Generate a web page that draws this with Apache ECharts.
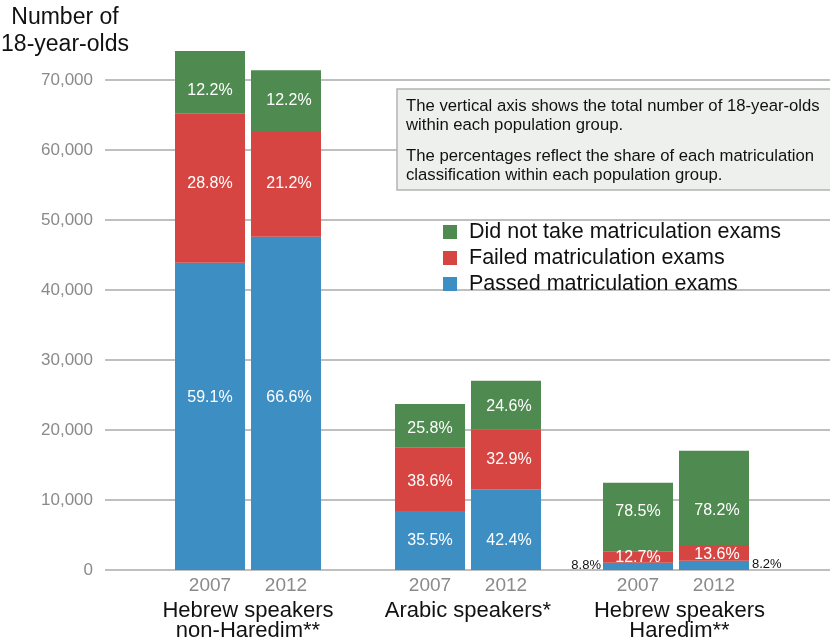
<!DOCTYPE html>
<html>
<head>
<meta charset="utf-8">
<script src="https://cdn.jsdelivr.net/npm/echarts@6/dist/echarts.min.js"></script>
<style>html,body{margin:0;padding:0;background:#fff;}#c{width:830px;height:643px;}</style>
</head>
<body>
<div id="c"></div>
<script>
// ---- data ----
const groups = ['Hebrew speakers\nnon-Haredim**', 'Arabic speakers*', 'Hebrew speakers\nHaredim**'];
const years = ['2007', '2012'];
const seriesNames = ['Passed matriculation exams', 'Failed matriculation exams', 'Did not take matriculation exams'];
// counts of 18-year-olds per bar (group order, 2007 then 2012)
const passed   = [43900, 47600, 8430, 11530, 1050, 1330];
const failed   = [21350, 15100, 9100, 8570, 1570, 2240];
const notTaken = [8900, 8700, 6180, 6940, 9860, 13480];
const pctPassed   = ['59.1%', '66.6%', '35.5%', '42.4%', '8.8%', '8.2%'];
const pctFailed   = ['28.8%', '21.2%', '38.6%', '32.9%', '12.7%', '13.6%'];
const pctNotTaken = ['12.2%', '12.2%', '25.8%', '24.6%', '78.5%', '78.2%'];
const yTicks = [0, 10000, 20000, 30000, 40000, 50000, 60000, 70000];

// ---- styling ----
const FONT = '"Liberation Sans", Arial, Helvetica, sans-serif';
const colors = { passed: '#3d8ec3', failed: '#d64541', notTaken: '#4f8a50' };
// vertical label nudges (px) per series [passed, failed, notTaken], per bar
const labelNudge = [
  [-19, -6, 0, 11, 0, 0],
  [-4, 0, 2, 0, 0, 2],
  [8, 0, 3, 2, -6, 13]
];

const chart = echarts.init(document.getElementById('c'), null, { renderer: 'canvas' });

const gridLefts = [172, 392, 600];
const grids = [{ left: 105, right: 0, top: 80, bottom: 73, outerBoundsMode: 'none', containLabel: false }];
const xAxes = [{ type: 'value', gridIndex: 0, show: false, min: 0, max: 1 }];
const yAxes = [{
  type: 'value', gridIndex: 0, min: yTicks[0], max: yTicks[yTicks.length - 1], interval: yTicks[1] - yTicks[0],
  axisLine: { show: false }, axisTick: { show: false },
  splitLine: { lineStyle: { color: '#bfbfbf', width: 2 } },
  axisLabel: { color: '#8a8a8a', fontSize: 17, fontFamily: FONT, margin: 12,
    formatter: v => v.toLocaleString('en-US') },
  name: 'Number of\n18-year-olds', nameLocation: 'end', nameGap: 22,
  nameTextStyle: { color: '#111', fontSize: 23, fontFamily: FONT, lineHeight: 27, align: 'center', padding: [0, 80, 0, 0] }
}];
const series = [];
const vals = [passed, failed, notTaken];
const pcts = [pctPassed, pctFailed, pctNotTaken];
const cols = [colors.passed, colors.failed, colors.notTaken];

groups.forEach((g, gi) => {
  const idx = gi + 1;
  grids.push({ left: gridLefts[gi], width: 152, top: 80, bottom: 73, outerBoundsMode: 'none', containLabel: false });
  xAxes.push({
    type: 'category', gridIndex: idx, data: years,
    axisLine: { show: false }, axisTick: { show: false },
    axisLabel: { color: '#8a8a8a', fontSize: 19, fontFamily: FONT, margin: 6 },
    name: g, nameLocation: 'middle', nameGap: 26,
    nameTextStyle: { color: '#111', fontSize: 22, fontFamily: FONT, lineHeight: 20,
      padding: gi === 2 ? [0, 0, 0, 7] : 0 }
  });
  yAxes.push({ type: 'value', gridIndex: idx, show: false, min: yTicks[0], max: yTicks[yTicks.length - 1],
    splitLine: { show: false } });
  [0, 1, 2].forEach(si => {
    const data = [0, 1].map(k => {
      const i = gi * 2 + k;
      const item = { value: vals[si][i] };
      if (si === 0 && gi === 2) {
        item.label = { position: k === 0 ? 'left' : 'right', distance: k === 0 ? 2 : 3,
          color: '#111', fontSize: 13, offset: [0, -1] };
      } else {
        item.label = { offset: [k === 1 ? 3 : 0, labelNudge[si][i]] };
      }
      return item;
    });
    series.push({
      type: 'bar', name: seriesNames[si], xAxisIndex: idx, yAxisIndex: idx,
      stack: 'g' + gi, barWidth: 70, clip: false, data: data,
      itemStyle: { color: cols[si] },
      label: { show: true, position: 'inside', color: '#fff', fontSize: 16, fontFamily: FONT,
        formatter: p => pcts[si][gi * 2 + p.dataIndex] },
      emphasis: { disabled: true }, animation: false
    });
  });
});

chart.setOption({
  animation: false,
  grid: grids, xAxis: xAxes, yAxis: yAxes, series: series,
  legend: {
    data: [seriesNames[2], seriesNames[1], seriesNames[0]],
    orient: 'vertical', left: 443, top: 221, padding: 0, icon: 'rect',
    itemWidth: 14, itemHeight: 14, itemGap: 4,
    textStyle: { color: '#111', fontSize: 21.5, fontFamily: FONT, lineHeight: 21, padding: [0, 0, 0, 7] }
  },
  graphic: [
    { type: 'rect', x: 397, y: 89, z: 100, shape: { x: 0, y: 0, width: 440, height: 101 },
      style: { fill: '#eef0ee', stroke: '#b3b3b3', lineWidth: 1.5 } },
    { type: 'text', x: 406, y: 96.5, z: 101,
      style: { text: 'The vertical axis shows the total number of 18-year-olds\nwithin each population group.',
        font: '16.7px ' + FONT, fill: '#111', lineHeight: 19 } },
    { type: 'text', x: 406, y: 146.5, z: 101,
      style: { text: 'The percentages reflect the share of each matriculation\nclassification within each population group.',
        font: '16.7px ' + FONT, fill: '#111', lineHeight: 19 } }
  ]
});
</script>
</body>
</html>
